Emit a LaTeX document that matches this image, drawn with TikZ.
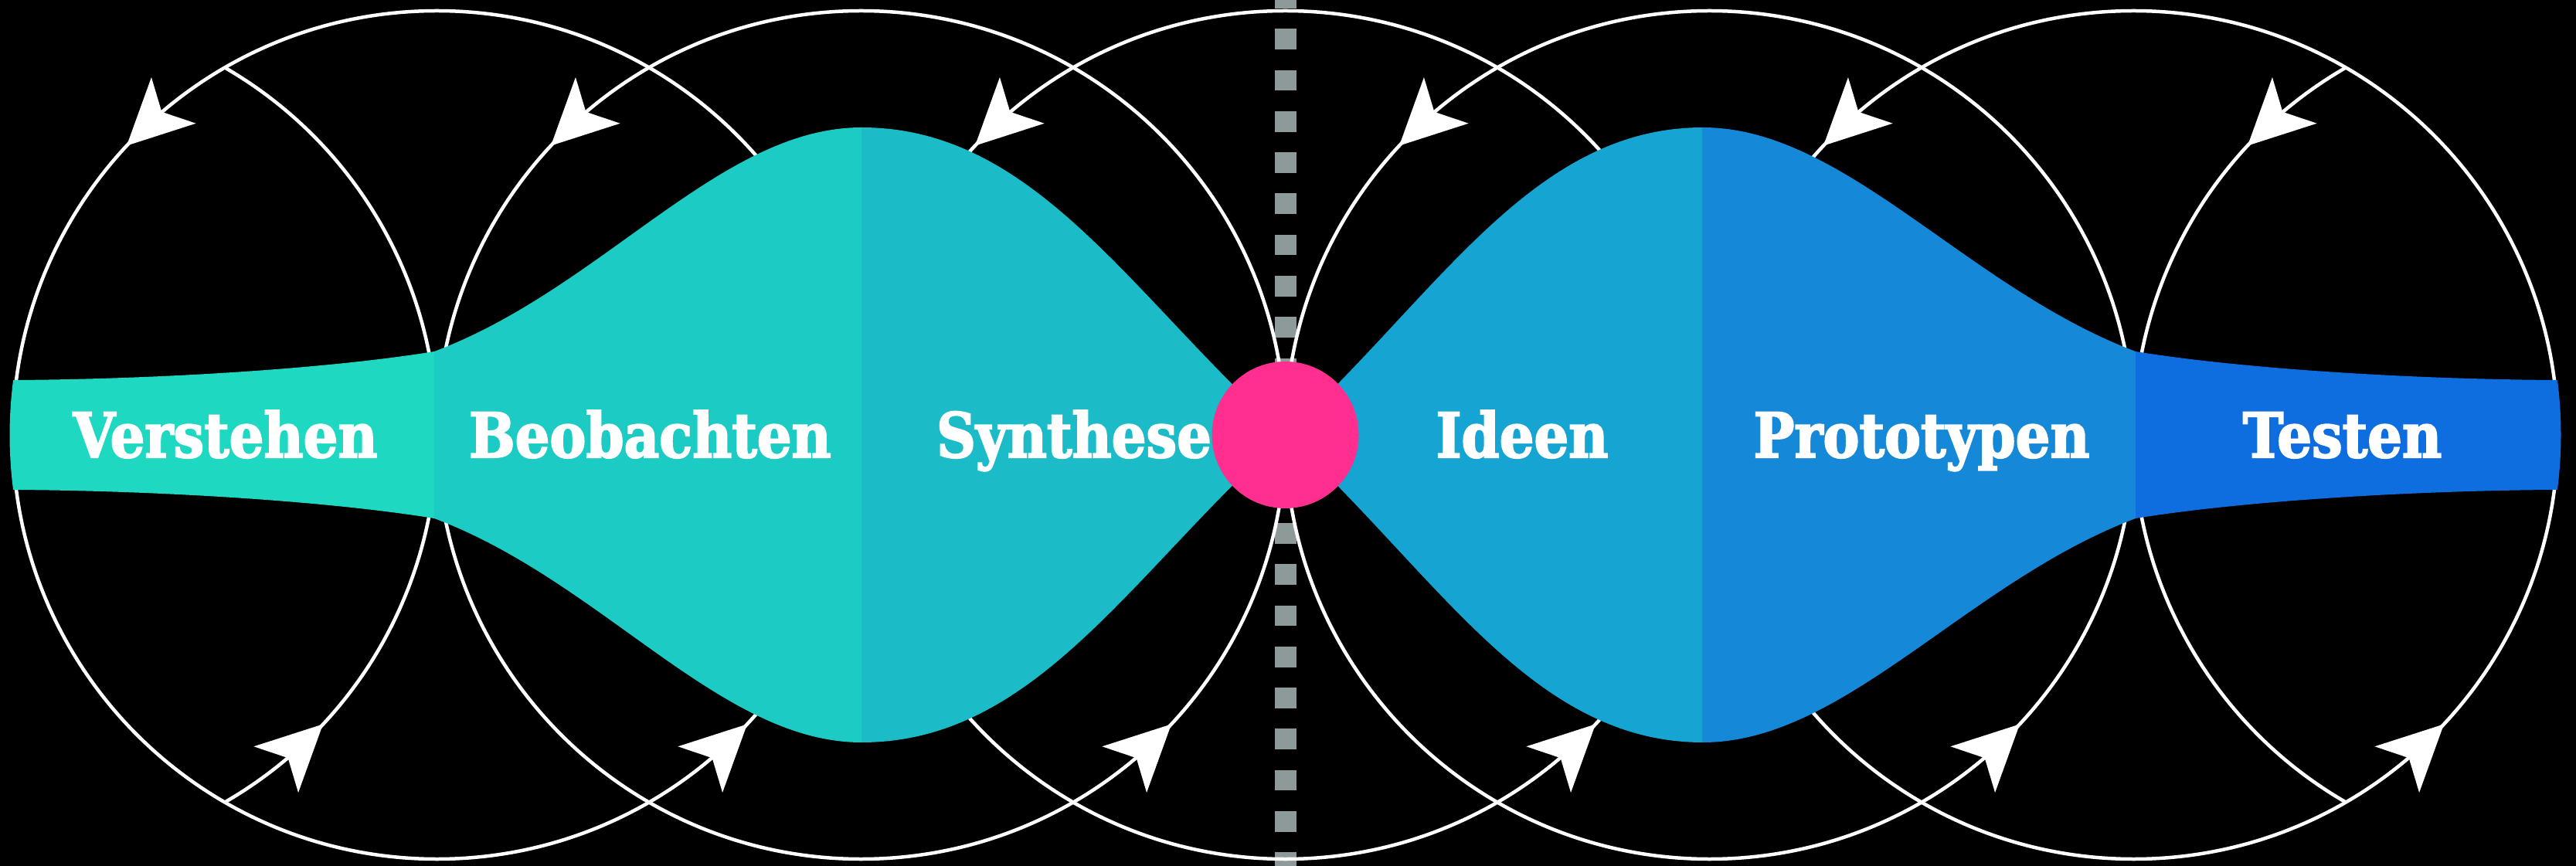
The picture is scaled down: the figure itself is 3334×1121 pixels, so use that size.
\documentclass[tikz,border=0pt]{standalone}
\usepackage{fontspec}
\newfontfamily\lblfont{DejaVu Serif}[FakeStretch=0.88, BoldFeatures={FakeBold=2.5}]
\usetikzlibrary{calc}
\definecolor{cverst}{HTML}{1ED8C1}
\definecolor{cbeob}{HTML}{1DCBC5}
\definecolor{csynth}{HTML}{1BBCC8}
\definecolor{cideen}{HTML}{16A4D3}
\definecolor{cproto}{HTML}{1589D8}
\definecolor{ctest}{HTML}{0E6EE0}
\definecolor{chub}{HTML}{FF2E8F}
\definecolor{cdots}{HTML}{8E9A99}
\begin{document}
\begin{tikzpicture}[x=1pt,y=1pt,
  loopline/.style={draw=white, line width=4.5pt},
  arrowhd/.style={fill=white},
  phaselabel/.style={text=white, anchor=base, inner sep=0pt, font=\lblfont\bfseries\fontsize{80}{90}\selectfont}]
\useasboundingbox (0,-558) rectangle (3334,563);
\fill[black] (0,-558) rectangle (3334,563);
\begin{scope}
\clip (0,-558) rectangle (3334,563);
% dotted centre line
\coordinate (dtop) at (1664,579);
\coordinate (dbot) at (1664,-600);
\draw[cdots, line width=27.7pt, dash pattern=on 26.7pt off 26.6pt] (dtop) -- (dbot);
% full circles
\foreach \k in {1,...,5}{
  \draw[loopline] ({16.5+549*\k},0) circle[radius=549];
}
% partial circles at both ends
\draw[loopline] (16.5,0) ++(-60:549) arc[start angle=-60, end angle=60, radius=549];
\draw[loopline] (3310.5,0) ++(120:549) arc[start angle=120, end angle=240, radius=549];
% arrowheads
\foreach \k in {0,...,5}{
  \fill[arrowhd, shift={({16.5+549*(\k+1)+549*cos(137)},{549*sin(137)})}, rotate=224]
    (0,0) -- (-84.5,41.5) -- (-63,0) -- (-84.5,-41.5) -- cycle;
  \fill[arrowhd, shift={({16.5+549*\k+549*cos(-43)},{549*sin(-43)})}, rotate=44]
    (0,0) -- (-84.5,41.5) -- (-63,0) -- (-84.5,-41.5) -- cycle;
}
% band
\begin{scope}
\clip (17.1,71) .. controls (200,72) and (420,85) .. (562,108)
  .. controls (780,190) and (932,398) .. (1115,398)
  .. controls (1340,398) and (1463.5,180) .. (1663.5,0)
  .. controls (1860,180) and (1982,398) .. (2204,398)
  .. controls (2387,398) and (2546,190) .. (2764,108)
  .. controls (2906,85) and (3126,72) .. (3309.9,71)
  arc[start angle=7.376, end angle=-7.376, radius=553]
  .. controls (3126,-72) and (2906,-85) .. (2764,-108)
  .. controls (2546,-190) and (2387,-398) .. (2204,-398)
  .. controls (1982,-398) and (1860,-180) .. (1663.5,0)
  .. controls (1463.5,-180) and (1340,-398) .. (1115,-398)
  .. controls (932,-398) and (780,-190) .. (562,-108)
  .. controls (420,-85) and (200,-72) .. (17.1,-71)
  arc[start angle=187.376, end angle=172.624, radius=553] -- cycle;
\fill[cverst] (0,-600) rectangle (562,600);
\fill[cbeob] (562,-600) rectangle (1115,600);
\fill[csynth] (1115,-600) rectangle (1663.5,600);
\fill[cideen] (1663.5,-600) rectangle (2203,600);
\fill[cproto] (2203,-600) rectangle (2764,600);
\fill[ctest] (2764,-600) rectangle (3334,600);
\end{scope}
\end{scope}
% hub
\node[circle, fill=chub, minimum size=190pt, inner sep=0pt] (hub) at (1663.5,0) {};
% labels
\node[phaselabel] (verstehen) at (291.5,-29) {Verstehen};
\node[phaselabel] (beobachten) at (841.5,-29) {Beobachten};
\node[phaselabel] (synthese) at (1390,-29) {Synthese};
\node[phaselabel] (ideen) at (1970,-29) {Ideen};
\node[phaselabel] (prototypen) at (2487,-29) {Prototypen};
\node[phaselabel] (testen) at (3031.5,-29) {Testen};
\end{tikzpicture}
\end{document}
